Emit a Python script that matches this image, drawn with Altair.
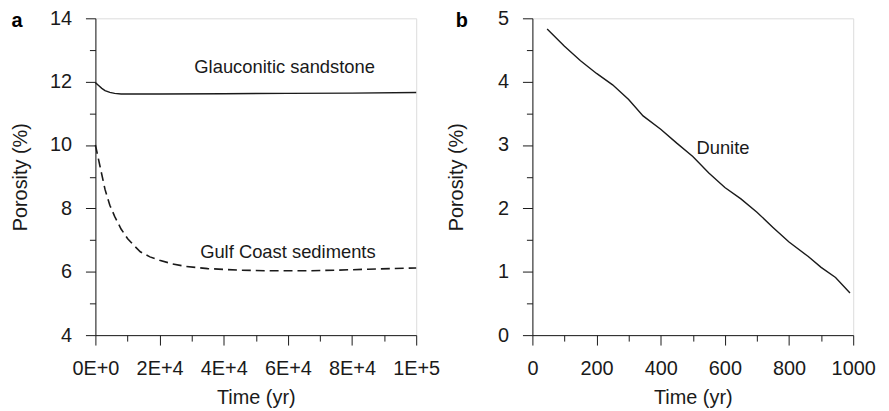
import altair as alt
import pandas as pd

FONT = "Liberation Sans"
INK = "#1a1a1a"

# ---- Panel a data ----
glauc_t = [0, 1000, 2000, 3000, 4500, 6000, 8000, 20000, 40000, 60000, 80000, 100000]
glauc_p = [11.97, 11.88, 11.79, 11.72, 11.66, 11.63, 11.61, 11.61, 11.62, 11.63, 11.64, 11.66]

gulf_t = [0, 1500, 3000, 4500, 6000, 8000, 10000, 12000, 14000, 17000, 20000,
          24000, 28000, 35000, 45000, 55000, 65000, 75000, 85000, 100000]
gulf_p = [10.0, 9.3, 8.6, 8.1, 7.75, 7.35, 7.05, 6.83, 6.63, 6.47, 6.36,
          6.25, 6.17, 6.10, 6.05, 6.03, 6.03, 6.05, 6.08, 6.12]

a_label_text = ["Glauconitic sandstone", "Gulf Coast sediments"]
a_label_t = [59000, 60000]
a_label_p = [12.47, 6.63]

a_xtick_values = [0, 20000, 40000, 60000, 80000, 100000]
a_xtick_labels = ["0E+0", "2E+4", "4E+4", "6E+4", "8E+4", "1E+5"]
a_xminor = list(range(0, 100001, 10000))
a_yminor = list(range(4, 15))

# ---- Panel b data ----
dunite_t = [46, 100, 150, 200, 250, 300, 345, 400, 450, 500, 550, 600,
            650, 700, 750, 800, 860, 900, 945, 990]
dunite_p = [4.83, 4.56, 4.33, 4.13, 3.95, 3.72, 3.46, 3.25, 3.03, 2.82, 2.56, 2.33,
            2.15, 1.94, 1.70, 1.47, 1.24, 1.07, 0.91, 0.665]

b_label_text = ["Dunite"]
b_label_t = [594]
b_label_p = [2.95]

b_xminor = list(range(0, 1001, 100))
b_yminor = [v / 2 for v in range(0, 11)]

panel_letters = ["a", "b"]

W = 323
H = 319


def label_expr(values, labels):
    expr = "''"
    for v, l in zip(reversed(values), reversed(labels)):
        expr = f"datum.value == {v} ? '{l}' : ({expr})"
    return expr


def axis(values, lexpr, major_test, title, **kw):
    return alt.Axis(
        values=values,
        labelExpr=lexpr,
        labelOverlap=False,
        labelFlush=False,
        tickSize={"condition": {"test": major_test, "value": 10}, "value": 6},
        title=title,
        grid=False,
        domainColor=INK,
        tickColor=INK,
        domainWidth=1,
        tickWidth=1,
        labelFont=FONT,
        labelFontSize=20,
        labelColor=INK,
        titleFont=FONT,
        titleFontSize=20,
        titleFontWeight="normal",
        titleColor=INK,
        **kw,
    )


def yaxis(values, lexpr, major_test, title, tx):
    return axis(values, lexpr, major_test, title, labelPadding=14,
                titleX=tx, titleY=H / 2, titleAngle=270, titleBaseline="middle",
                titleAlign="center")


# Panel a
xa = alt.X("t:Q", scale=alt.Scale(domain=[0, 100000], nice=False, zero=False),
           axis=axis(a_xminor, label_expr(a_xtick_values, a_xtick_labels),
                     "datum.value % 20000 == 0", "Time (yr)",
                     labelPadding=14, titlePadding=9))
ya = alt.Y("p:Q", scale=alt.Scale(domain=[4, 14], nice=False, zero=False),
           axis=yaxis(a_yminor, "datum.value % 2 == 0 ? format(datum.value, 'd') : ''",
                      "datum.value % 2 == 0", "Porosity (%)", -75))

df_glauc = pd.DataFrame({"t": glauc_t, "p": glauc_p})
df_gulf = pd.DataFrame({"t": gulf_t, "p": gulf_p})
df_alab = pd.DataFrame({"t": a_label_t, "p": a_label_p, "txt": a_label_text})

line_glauc = alt.Chart(df_glauc).mark_line(color=INK, strokeWidth=1.4).encode(x=xa, y=ya)
line_gulf = alt.Chart(df_gulf).mark_line(color=INK, strokeWidth=1.6, strokeDash=[9, 5]).encode(x=xa, y=ya)
text_a = alt.Chart(df_alab).mark_text(font=FONT, fontSize=18.5, color=INK, baseline="middle", align="center").encode(
    x=xa, y=ya, text="txt:N")
letter_a = alt.Chart(pd.DataFrame({"l": [panel_letters[0]]})).mark_text(
    font=FONT, fontSize=20, fontWeight="bold", color="#000", align="center", baseline="middle"
).encode(x=alt.value(-79), y=alt.value(3), text="l:N")

panel_a = alt.layer(line_glauc, line_gulf, text_a, letter_a).properties(width=W, height=H)

# Panel b
xb = alt.X("t:Q", scale=alt.Scale(domain=[0, 1000], nice=False, zero=False),
           axis=axis(b_xminor, "datum.value % 200 == 0 ? format(datum.value, 'd') : ''",
                     "datum.value % 200 == 0", "Time (yr)",
                     labelPadding=14, titlePadding=9))
yb = alt.Y("p:Q", scale=alt.Scale(domain=[0, 5], nice=False, zero=False),
           axis=yaxis(b_yminor, "datum.value % 1 == 0 ? format(datum.value, 'd') : ''",
                      "datum.value % 1 == 0", "Porosity (%)", -76))

df_dun = pd.DataFrame({"t": dunite_t, "p": dunite_p})
df_blab = pd.DataFrame({"t": b_label_t, "p": b_label_p, "txt": b_label_text})

line_dun = alt.Chart(df_dun).mark_line(color=INK, strokeWidth=1.4).encode(x=xb, y=yb)
text_b = alt.Chart(df_blab).mark_text(font=FONT, fontSize=18.5, color=INK, baseline="middle", align="center").encode(
    x=xb, y=yb, text="txt:N")
letter_b = alt.Chart(pd.DataFrame({"l": [panel_letters[1]]})).mark_text(
    font=FONT, fontSize=20, fontWeight="bold", color="#000", align="center", baseline="middle"
).encode(x=alt.value(-71), y=alt.value(3), text="l:N")

panel_b = alt.layer(line_dun, text_b, letter_b).properties(width=W, height=H)

chart = alt.hconcat(panel_a, panel_b, spacing=117, bounds="flush").properties(
    padding={"left": 2, "top": -2, "right": 5, "bottom": 0}
).configure_view(strokeWidth=0).configure(background="white")

chart.save("out.html", embed_options={"renderer": "svg", "actions": False})
